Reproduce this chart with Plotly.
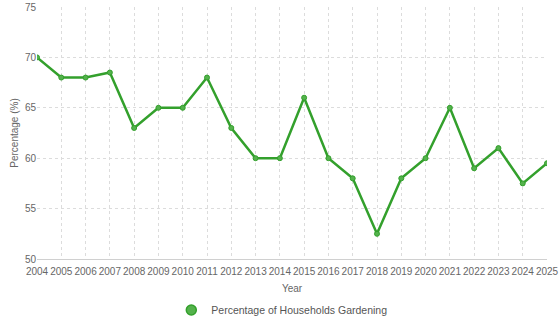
import plotly.graph_objects as go

years = list(range(2004, 2026))
households_gardening = [70, 68, 68, 68.5, 63, 65, 65, 68, 63, 60, 60, 66,
                        60, 58, 52.5, 58, 60, 65, 59, 61, 57.5, 59.5]
series_name = "Percentage of Households Gardening"
y_ticks = [50, 55, 60, 65, 70, 75]

green = "rgb(51,160,44)"
green_fill = "rgb(84,178,76)"
font_family = "Liberation Sans, Arial, sans-serif"

fig = go.Figure()
fig.add_trace(go.Scatter(
    x=years, y=households_gardening, mode="lines+markers",
    name=series_name, showlegend=False,
    line=dict(color=green, width=2.5),
    marker=dict(color=green_fill, size=5, line=dict(color=green, width=1)),
))
# legend entry drawn as a plain circle
fig.add_trace(go.Scatter(
    x=[None], y=[None], mode="markers", name=series_name,
    marker=dict(color=green_fill, size=10, line=dict(color=green, width=1.5)),
))

fig.update_layout(
    width=560, height=323,
    margin=dict(l=37, r=13, t=7, b=64, autoexpand=False),
    paper_bgcolor="white", plot_bgcolor="white",
    font=dict(family=font_family, size=10, color="#666"),
    showlegend=True,
    legend=dict(orientation="h", x=0.48, xanchor="center", y=-0.145, yanchor="top",
                font=dict(size=10.5, color="#555")),
)
fig.update_xaxes(
    range=[2004, 2025], tickmode="array", tickvals=years,
    ticktext=[str(y) for y in years], tickangle=0, automargin=False,
    ticklabelstandoff=3,
    showgrid=True, gridcolor="#dcdcdc", griddash="dot", gridwidth=1,
    showline=True, linecolor="#d0d0d0", linewidth=1,
    zeroline=False, ticks="", tickfont=dict(size=10, color="#666"),
    title=dict(text="Year", font=dict(size=10, color="#666"), standoff=8),
)
fig.update_yaxes(
    range=[50, 75], tickvals=y_ticks, automargin=False,
    showgrid=True, gridcolor="#dcdcdc", griddash="dot", gridwidth=1,
    showline=False, zeroline=False, ticks="",
    tickfont=dict(size=10, color="#666"),
    title=dict(text="Percentage (%)", font=dict(size=10, color="#666"), standoff=4),
)

fig.write_html("out.html")
